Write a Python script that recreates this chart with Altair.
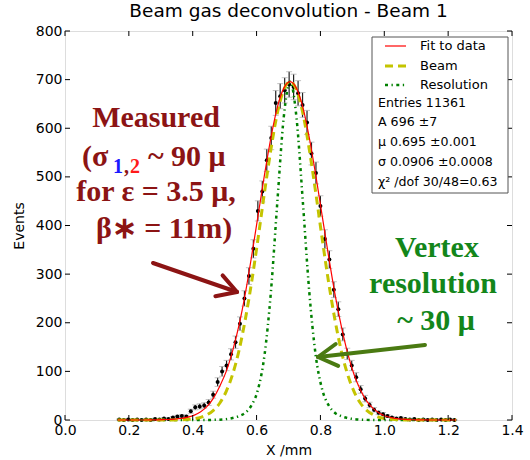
import altair as alt
import pandas as pd
import numpy as np

# ---------------- data ----------------
bin_x = [0.170, 0.184, 0.198, 0.212, 0.226, 0.240, 0.254, 0.268, 0.282, 0.296,
         0.310, 0.324, 0.338, 0.352, 0.366, 0.380, 0.394, 0.408, 0.422, 0.436,
         0.450, 0.464, 0.478, 0.492, 0.506, 0.520, 0.534, 0.548, 0.562, 0.576,
         0.590, 0.604, 0.618, 0.632, 0.646, 0.660, 0.674, 0.688, 0.702, 0.716,
         0.730, 0.744, 0.758, 0.772, 0.786, 0.800, 0.814, 0.828, 0.842, 0.856,
         0.870, 0.884, 0.898, 0.912, 0.926, 0.940, 0.954, 0.968, 0.982, 0.996,
         1.010, 1.024, 1.038, 1.052, 1.066, 1.080, 1.094, 1.108, 1.122, 1.136,
         1.150, 1.164, 1.178, 1.192, 1.206, 1.220]
counts = [1, 0, 1, 0, 1, 0, 1, 0, 2, 1,
          3, 2, 5, 7, 8, 7, 18, 26, 28, 30,
          36, 52, 78, 100, 112, 135, 160, 198, 250, 296,
          352, 430, 470, 534, 580, 652, 666, 678, 690, 685,
          672, 648, 612, 548, 508, 440, 372, 330, 268, 228,
          176, 136, 112, 88, 63, 44, 31, 21, 15, 12,
          8, 5, 3, 4, 2, 1, 2, 0, 1, 0,
          1, 0, 1, 0, 1, 0]

curve_x = [0.165, 0.185, 0.205, 0.225, 0.245, 0.265, 0.285, 0.305, 0.325, 0.345,
           0.365, 0.385, 0.405, 0.425, 0.445, 0.465, 0.485, 0.505, 0.525, 0.545,
           0.565, 0.585, 0.605, 0.625, 0.645, 0.665, 0.685, 0.705, 0.725, 0.745,
           0.765, 0.785, 0.805, 0.825, 0.845, 0.865, 0.885, 0.905, 0.925, 0.945,
           0.965, 0.985, 1.005, 1.025, 1.045, 1.065, 1.085, 1.105, 1.125, 1.145,
           1.165, 1.185, 1.205, 1.225]
fit_y = [0, 0, 0, 0, 0, 0.1, 0.3, 0.6, 1, 2,
         3.5, 6, 10, 17, 28, 45, 70, 100, 142, 195,
         261, 339, 422, 505, 581, 643, 682, 696, 682, 643,
         581, 505, 422, 339, 261, 194, 138, 94, 62, 39,
         24, 14, 7.7, 4.2, 2.2, 1.1, 0.5, 0.2, 0.1, 0,
         0, 0, 0, 0]
beam_y = [0, 0, 0, 0, 0, 0, 0, 0, 0.1, 0.2,
          0.6, 1.3, 2.7, 5.5, 11, 20, 35, 59, 94, 143,
          208, 286, 375, 469, 557, 631, 679, 696, 679, 631,
          557, 469, 375, 286, 208, 143, 94, 59, 35, 20,
          11, 5.5, 2.7, 1.3, 0.6, 0.2, 0.1, 0, 0, 0,
          0, 0, 0, 0]
res_y = [0, 0, 0, 0, 0, 0, 0, 0, 0, 0,
         0, 0, 0, 0, 0.1, 0.3, 0.7, 1.8, 4, 8,
         15, 31, 64, 134, 264, 448, 622, 696, 622, 448,
         264, 134, 64, 31, 15, 8, 4, 1.8, 0.7, 0.3,
         0.1, 0, 0, 0, 0, 0, 0, 0, 0, 0,
         0, 0, 0, 0]

x_ticks = [0.0, 0.2, 0.4, 0.6, 0.8, 1.0, 1.2, 1.4]
y_ticks = [0, 100, 200, 300, 400, 500, 600, 700, 800]
legend_labels = ["Fit to data", "Beam", "Resolution"]
stats_lines = ["Entries 11361", "A 696 \u00b17", "\u03bc 0.695 \u00b10.001",
               "\u03c3 0.0906 \u00b10.0008", "\u03c7\u00b2 /dof 30/48=0.63"]
chart_title = "Beam gas deconvolution - Beam 1"
x_title = "X /mm"
y_title = "Events"

# ---------------- styling ----------------
W, H = 447, 389
FONT = "DejaVu Sans"
SERIF = "Liberation Serif"
DARKRED = "#8c1414"
GREEN_TXT = "#13861a"
GREEN_ARW = "#4a7a12"
C_FIT = "#ff0000"
C_BEAM = "#c4c400"
C_RES = "#008000"

xs = alt.Scale(domain=[0, 1.4], nice=False, zero=False)
ys = alt.Scale(domain=[0, 800], nice=False)
xaxis = alt.Axis(values=x_ticks, format=".1f", title=x_title, ticks=False, domain=False,
                 grid=False, labelFont=FONT, labelFontSize=14, titleFont=FONT,
                 titleFontSize=14, titleFontWeight="normal", labelPadding=3,
                 titlePadding=6, labelColor="black", titleColor="black",
                 labelFlush=False, labelOverlap=False)
yaxis = alt.Axis(values=y_ticks, format="d", title=y_title, ticks=False, domain=False,
                 grid=False, labelFont=FONT, labelFontSize=14, titleFont=FONT,
                 titleFontSize=14, titleFontWeight="normal", labelPadding=3,
                 titlePadding=9, labelColor="black", titleColor="black",
                 labelFlush=False, labelOverlap=False)


def X(field):
    return alt.X(field, type="quantitative", scale=xs, axis=xaxis)


def Y(field):
    return alt.Y(field, type="quantitative", scale=ys, axis=yaxis)


pts = pd.DataFrame({"x": bin_x, "n": counts})
pts["lo"] = pts["n"] - np.sqrt(pts["n"])
pts["hi"] = pts["n"] + np.sqrt(pts["n"])

curves = pd.DataFrame({"x": curve_x, "fit": fit_y, "beam": beam_y, "res": res_y})
one = pd.DataFrame({"k": [0]})

layers = []

# error bars, caps, points
layers.append(alt.Chart(pts).mark_rule(color="#222222", strokeWidth=1.2)
              .encode(x=X("x"), y=Y("lo"), y2="hi"))
layers.append(alt.Chart(pts).mark_tick(orient="horizontal", size=6, thickness=1, color="#aaaaaa")
              .encode(x=X("x"), y=Y("hi")))
layers.append(alt.Chart(pts).mark_tick(orient="horizontal", size=6, thickness=1, color="#aaaaaa")
              .encode(x=X("x"), y=Y("lo")))
layers.append(alt.Chart(pts).mark_circle(size=16, color="black", opacity=1)
              .encode(x=X("x"), y=Y("n")))

# curves
layers.append(alt.Chart(curves).mark_line(color=C_RES, strokeWidth=2.5, strokeDash=[3, 3.5, 1.3, 3.5],
                                          interpolate="monotone")
              .encode(x=X("x"), y=Y("res")))
layers.append(alt.Chart(curves).mark_line(color=C_BEAM, strokeWidth=3, strokeDash=[8, 5],
                                          interpolate="monotone")
              .encode(x=X("x"), y=Y("beam")))
layers.append(alt.Chart(curves).mark_line(color=C_FIT, strokeWidth=1.2, interpolate="monotone")
              .encode(x=X("x"), y=Y("fit")))

# inner ticks (matplotlib style) on all four sides
xt = pd.DataFrame({"x": x_ticks})
yt = pd.DataFrame({"y": y_ticks})
layers.append(alt.Chart(xt).mark_rule(color="black", strokeWidth=1)
              .encode(x=X("x"), y=alt.value(H), y2=alt.value(H - 5)))
layers.append(alt.Chart(xt).mark_rule(color="black", strokeWidth=1)
              .encode(x=X("x"), y=alt.value(0), y2=alt.value(5)))
layers.append(alt.Chart(yt).mark_rule(color="black", strokeWidth=1)
              .encode(y=Y("y"), x=alt.value(0), x2=alt.value(5)))
layers.append(alt.Chart(yt).mark_rule(color="black", strokeWidth=1)
              .encode(y=Y("y"), x=alt.value(W - 5), x2=alt.value(W)))

# legend box
layers.append(alt.Chart(one).mark_rect(fill="white", stroke="#555555", strokeWidth=1)
              .encode(x=alt.value(307), x2=alt.value(443), y=alt.value(6), y2=alt.value(162)))
row_y = [15, 35, 54, 72, 91, 111, 131, 151]
sample_styles = [
    dict(color=C_FIT, strokeWidth=1.2),
    dict(color=C_BEAM, strokeWidth=3, strokeDash=[8, 5]),
    dict(color=C_RES, strokeWidth=2.5, strokeDash=[3, 3.5, 1.3, 3.5]),
]
for i, lab in enumerate(legend_labels):
    layers.append(alt.Chart(one).mark_rule(**sample_styles[i])
                  .encode(x=alt.value(320), x2=alt.value(341), y=alt.value(row_y[i])))
    layers.append(alt.Chart(one).mark_text(text=lab, align="left", baseline="middle",
                                           font=FONT, fontSize=13, color="black")
                  .encode(x=alt.value(355), y=alt.value(row_y[i])))
for j, s in enumerate(stats_lines):
    layers.append(alt.Chart(one).mark_text(text=s, align="left", baseline="middle",
                                           font=FONT, fontSize=12.6, color="black")
                  .encode(x=alt.value(313), y=alt.value(row_y[3 + j])))

# "Measured" annotation
def txt(s, x, y, color, size=30, align="center"):
    return (alt.Chart(one).mark_text(text=s, align=align, baseline="alphabetic", font=SERIF,
                                     fontSize=size, fontWeight="bold", color=color)
            .encode(x=alt.value(x), y=alt.value(y)))


layers.append(txt("Measured", 91, 96, DARKRED))
layers.append(txt("(\u03c3", 17, 135, DARKRED, align="left"))
layers.append(txt("1", 48, 142, "#1a1aff", size=20, align="left"))
layers.append(txt(",", 59, 142, DARKRED, size=20, align="left"))
layers.append(txt("2", 65, 142, "#ff1a1a", size=20, align="left"))
layers.append(txt("~ 90 \u03bc", 83, 135, DARKRED, align="left"))
layers.append(txt("for \u03b5 = 3.5 \u03bc,", 91, 170, DARKRED))
layers.append(txt("\u03b2\u2217 = 11m)", 99, 207, DARKRED))

# "Vertex resolution" annotation
layers.append(txt("Vertex", 372, 226, GREEN_TXT))
layers.append(txt("resolution", 368, 262, GREEN_TXT))
layers.append(txt("~ 30 \u03bc", 371, 299, GREEN_TXT))

# arrows
def seg(x1, y1, x2, y2, color):
    return (alt.Chart(one).mark_rule(color=color, strokeWidth=4, strokeCap="round")
            .encode(x=alt.value(x1), y=alt.value(y1), x2=alt.value(x2), y2=alt.value(y2)))


layers.append(seg(88, 232, 172, 261, DARKRED))
layers.append(seg(172, 261, 157.6, 244.4, DARKRED))
layers.append(seg(172, 261, 150.4, 265.2, DARKRED))
layers.append(seg(360, 314, 253, 326, GREEN_ARW))
layers.append(seg(253, 326, 273.2, 334.8, GREEN_ARW))
layers.append(seg(253, 326, 270.7, 313, GREEN_ARW))

chart = (alt.layer(*layers)
         .properties(width=W, height=H,
                     title=alt.TitleParams(chart_title, font=FONT, fontSize=18.5, fontWeight="normal",
                                           color="black", anchor="middle", offset=4),
                     padding={"left": 65, "top": 31, "right": 18, "bottom": 40},
                     autosize=alt.AutoSizeParams(type="none"))
         .configure_view(stroke="black", strokeWidth=1)
         .configure(background="white"))

chart.save("out.html", embed_options={"renderer": "svg", "actions": False})
